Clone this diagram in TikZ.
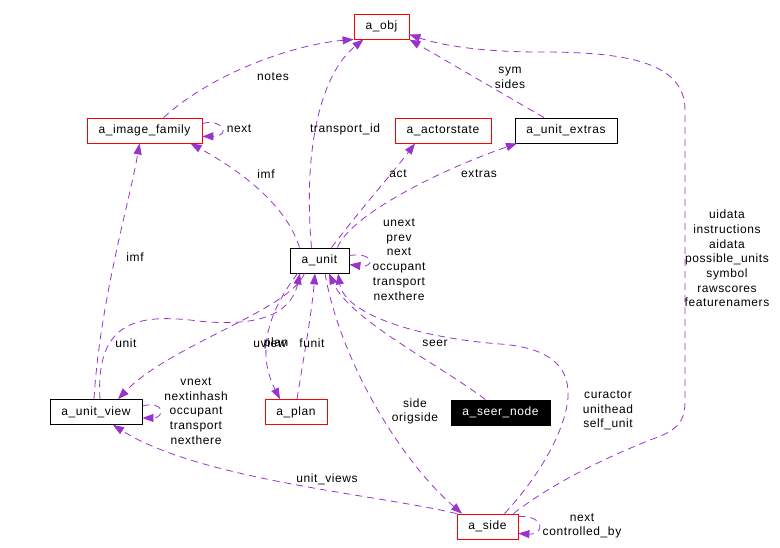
\documentclass[tikz,border=0pt]{standalone}
\usepackage{fontspec}
\setmainfont[LetterSpace=5]{Liberation Sans}
\usepackage{tikz}
\usetikzlibrary{arrows.meta}
\definecolor{relpurple}{RGB}{154,50,205}
\newcommand{\dxfont}{\fontsize{12}{14.7}\selectfont}
\tikzstyle{cls}  = [rectangle, minimum height=25pt, inner sep=0pt, text centered, draw=black, fill=white, line width=0.8pt, font=\dxfont]
\tikzstyle{doc}  = [cls, draw=red]
\tikzstyle{root} = [cls, fill=black, text=white]
\tikzstyle{rel}  = [draw=relpurple, line width=0.8pt, dash pattern=on 7pt off 5pt, -{Triangle[length=11pt,width=8pt]}]
\tikzstyle{lbl}  = [inner sep=0pt, align=center, font=\dxfont]

\begin{document}
\begin{tikzpicture}[x=1pt, y=-1pt]
    \useasboundingbox (0,0) rectangle (780,548);

    % classes
    \node (a_obj)          [doc,  minimum width=55pt]  at (381.5,26.5)  {a\_obj};
    \node (a_image_family) [doc,  minimum width=115pt] at (144.5,130.5) {a\_image\_family};
    \node (a_actorstate)   [doc,  minimum width=96pt]  at (443,130.5)   {a\_actorstate};
    \node (a_unit_extras)  [cls,  minimum width=102pt] at (566,130.5)   {a\_unit\_extras};
    \node (a_unit)         [cls,  minimum width=59pt]  at (319.5,260.5) {a\_unit};
    \node (a_unit_view)    [cls,  minimum width=92pt]  at (96,412)      {a\_unit\_view};
    \node (a_plan)         [doc,  minimum width=62pt]  at (296,412)     {a\_plan};
    \node (a_seer_node)    [root, minimum width=99pt]  at (500.5,412.5) {a\_seer\_node};
    \node (a_side)         [doc,  minimum width=61pt]  at (487.5,526.5) {a\_side};

    % to a_obj
    \draw [rel] ([xshift=19pt]a_image_family.north) .. controls (210,75) and (290,45) .. (a_obj.south west);
    \draw [rel] ([xshift=-8pt]a_unit.north) .. controls (303,150) and (320,75) .. ([xshift=-18pt]a_obj.south);
    \draw [rel] ([xshift=-22pt]a_unit_extras.north) -- (a_obj.south east);
    \draw [rel] ([xshift=-5pt]a_side.north east) .. controls (550,485) and (600,460) .. (650,440)
                .. controls (680,430) and (685,420) .. (685,400) -- (685,110)
                .. controls (685,60) and (620,52) .. (540,52)
                .. controls (480,52) and (440,45) .. ([yshift=-8pt]a_obj.east);
    \node (l_notes) [lbl] at (273,77)   {notes};
    \node (l_tid)   [lbl] at (345,129)  {transport\_id};
    \node (l_sym)   [lbl] at (510,78)   {sym\\sides};
    \node (l_ui)    [lbl] at (727,258.5) {uidata\\instructions\\aidata\\possible\_units\\symbol\\rawscores\\featurenamers};

    % a_image_family
    \draw [rel] ([yshift=7pt]a_image_family.east) .. controls (222,118) and (232,136) .. ([yshift=-6pt]a_image_family.east);
    \draw [rel] ([xshift=-20pt]a_unit.north) .. controls (285,200) and (230,165) .. ([xshift=46pt]a_image_family.south);
    \draw [rel] ([xshift=-2pt]a_unit_view.north) .. controls (100,300) and (130,200) .. ([xshift=-5pt]a_image_family.south);
    \node (l_ifnext) [lbl] at (239,129) {next};
    \node (l_imf)    [lbl] at (266,174) {imf};
    \node (l_vimf)   [lbl] at (135,257) {imf};

    % from a_unit upwards
    \draw [rel] ([xshift=12pt]a_unit.north) .. controls (360,210) and (395,170) .. ([xshift=-28pt]a_actorstate.south);
    \draw [rel] ([xshift=18pt]a_unit.north) .. controls (350,215) and (440,170) .. ([xshift=-49pt]a_unit_extras.south);
    \node (l_act)    [lbl] at (398,174) {act};
    \node (l_extras) [lbl] at (479,174) {extras};

    % a_unit self
    \draw [rel] ([yshift=5pt]a_unit.east) .. controls (375,252) and (375,268) .. ([yshift=-4pt]a_unit.east);
    \node (l_unext) [lbl] at (399,259.5) {unext\\prev\\next\\occupant\\transport\\nexthere};

    % below a_unit
    \draw [rel] ([xshift=4pt]a_unit_view.north) .. controls (95,320) and (140,315) .. (190,320)
                .. controls (250,328) and (290,318) .. ([xshift=-19.5pt]a_unit.south);
    \draw [rel] ([xshift=-15pt]a_unit.south) .. controls (290,310) and (170,345) .. ([xshift=22pt]a_unit_view.north);
    \draw [rel] ([xshift=-22pt]a_unit.south) .. controls (270,310) and (255,350) .. ([xshift=-16pt]a_plan.north);
    \draw [rel] ([xshift=1pt]a_plan.north) .. controls (305,350) and (312,310) .. ([xshift=-4.5pt]a_unit.south);
    \draw [rel] ([xshift=-15pt]a_seer_node.north) .. controls (440,365) and (350,320) .. ([xshift=9.5pt]a_unit.south);
    \draw [rel] ([xshift=17pt]a_side.north) .. controls (545,470) and (570,420) .. (568,390)
                .. controls (566,360) and (540,347) .. (500,344)
                .. controls (420,338) and (345,315) .. ([xshift=18.5pt]a_unit.south);
    \draw [rel] ([xshift=5.5pt]a_unit.south) .. controls (340,360) and (400,460) .. ([xshift=-25.5pt]a_side.north);
    \node (l_unit)  [lbl] at (126,343) {unit};
    \node (l_uview) [lbl] at (270,343) {uview};
    \node (l_plan)  [lbl] at (276,343) {plan};
    \node (l_funit) [lbl] at (312,343) {funit};
    \node (l_seer)  [lbl] at (435,343) {seer};
    \node (l_cur)   [lbl] at (608,410.5) {curactor\\unithead\\self\_unit};
    \node (l_side)  [lbl] at (415,411.5) {side\\origside};

    % a_unit_view and a_side
    \draw [rel] ([yshift=6pt]a_unit_view.east) .. controls (165,400) and (165,418) .. ([yshift=-6pt]a_unit_view.east);
    \draw [rel] (a_side.north west) .. controls (380,495) and (200,480) .. ([xshift=17pt]a_unit_view.south);
    \draw [rel] ([yshift=10pt]a_side.east) .. controls (545,515) and (545,535) .. ([yshift=-7pt]a_side.east);
    \node (l_vnext) [lbl] at (196,411) {vnext\\nextinhash\\occupant\\transport\\nexthere};
    \node (l_uvs)   [lbl] at (327,479) {unit\_views};
    \node (l_snext) [lbl] at (582,526) {next\\controlled\_by};

  \end{tikzpicture}
\end{document}
